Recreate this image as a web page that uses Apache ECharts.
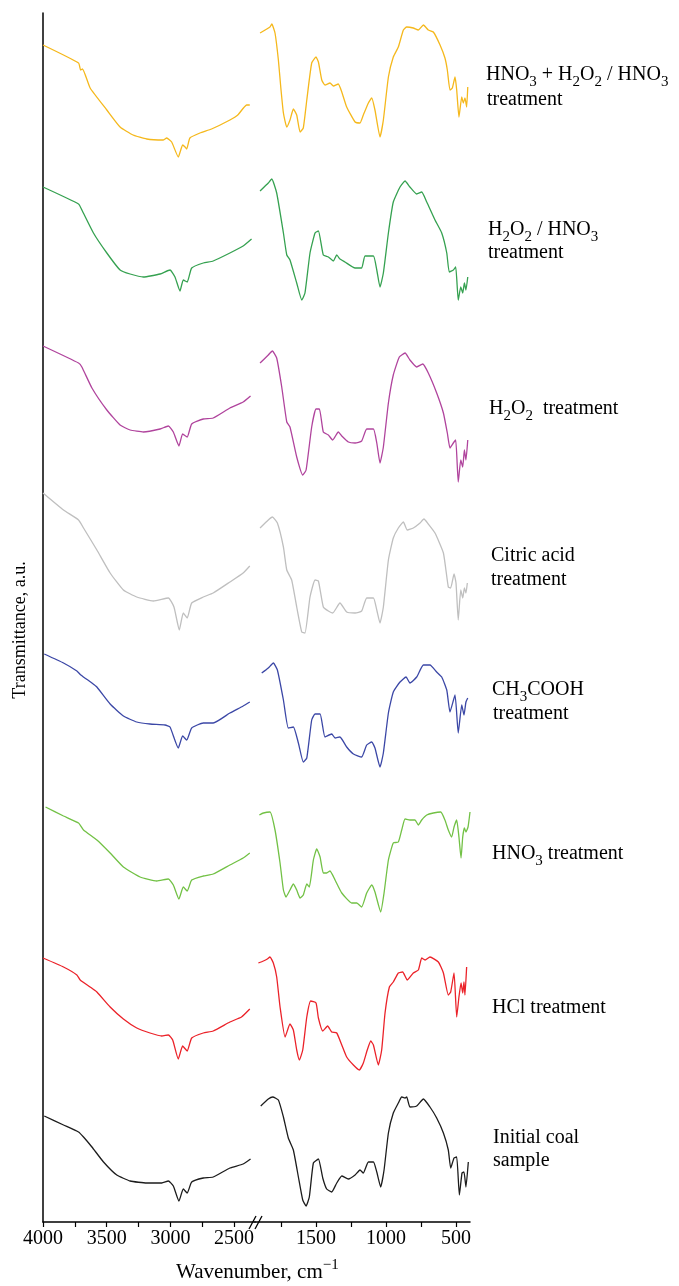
<!DOCTYPE html>
<html>
<head>
<meta charset="utf-8">
<script src="https://cdn.jsdelivr.net/npm/echarts@6/dist/echarts.min.js"></script>
<style>
  html, body { margin: 0; padding: 0; background: #fff; }
  #chart { width: 679px; height: 1286px; }
</style>
</head>
<body>
<div id="chart"></div>
<script>
// FTIR spectra, [wavenumber cm-1, transmittance a.u.] (curves stacked, offset already included)
const hno3H2o2 = [
  [4000,1177],[3721,1159],[3705,1152],[3690,1153],[3630,1134],[3499,1112],[3395,1095],[3293,1087],[3186,1083],
  [3058,1082],[3029,1084],[2990,1080],[2938,1065],[2904,1077],[2885,1075],[2872,1073],[2847,1084],[2768,1089],
  [2677,1093],[2533,1102],[2471,1107],[2402,1117],[2377,1117],
  [1900,1189],[1829,1195],[1816,1198],[1793,1189],[1769,1162],[1752,1135],[1733,1109],[1709,1095],[1686,1102],
  [1662,1113],[1638,1107],[1614,1090],[1591,1094],[1566,1122],[1531,1159],[1500,1165],[1483,1160],[1459,1142],
  [1436,1137],[1400,1139],[1376,1136],[1341,1138],[1316,1130],[1281,1115],[1221,1100],[1186,1099],[1162,1107],
  [1126,1119],[1102,1124],[1079,1112],[1043,1085],[1019,1102],[983,1145],[948,1165],[912,1175],[876,1192],
  [852,1195],[805,1194],[769,1192],[733,1197],[698,1192],[662,1190],[614,1177],[579,1164],[562,1152],[543,1132],
  [526,1134],[507,1145],[495,1132],[479,1105],[459,1125],[448,1119],[436,1124],[424,1115],[416,1135]
];
const h2o2Hno3 = [
  [4000,1035],[3721,1018],[3695,1012],[3604,989],[3499,969],[3395,952],[3316,948],[3212,945],[3081,948],
  [3003,952],[2964,945],[2925,931],[2899,942],[2868,940],[2833,954],[2742,959],[2664,961],[2533,969],
  [2429,976],[2363,983],
  [1900,1031],[1841,1039],[1816,1043],[1781,1029],[1733,989],[1709,967],[1686,962],[1638,939],[1602,922],
  [1579,929],[1543,969],[1507,989],[1483,991],[1448,967],[1412,965],[1376,961],[1352,967],[1329,963],
  [1293,960],[1221,954],[1174,954],[1150,966],[1090,966],[1066,952],[1043,935],[1019,949],[983,989],
  [948,1020],[900,1035],[864,1041],[829,1035],[781,1028],[745,1030],[709,1020],[650,1002],[602,989],
  [566,969],[548,950],[519,952],[502,955],[484,922],[466,935],[452,929],[440,939],[429,932],[416,945]
];
const h2o2 = [
  [4000,876],[3721,859],[3695,855],[3616,834],[3499,812],[3395,797],[3316,792],[3212,790],[3081,793],
  [3016,796],[2977,790],[2933,776],[2904,788],[2868,785],[2833,798],[2742,803],[2664,804],[2533,814],
  [2429,820],[2371,826],
  [1900,859],[1841,867],[1812,871],[1781,864],[1745,835],[1709,800],[1686,795],[1638,765],[1595,747],
  [1571,752],[1531,795],[1500,813],[1476,813],[1448,790],[1412,787],[1381,782],[1341,790],[1316,786],
  [1269,780],[1221,779],[1174,781],[1138,793],[1090,793],[1066,779],[1043,759],[1019,775],[983,819],
  [948,847],[905,865],[864,869],[829,862],[781,855],[738,858],[698,849],[638,829],[590,809],[562,789],
  [543,774],[519,779],[502,782],[484,740],[466,762],[452,755],[440,772],[429,762],[416,782]
];
const citricAcid = [
  [4000,729],[3839,712],[3721,702],[3682,694],[3577,672],[3473,649],[3369,632],[3264,625],[3134,621],
  [3016,624],[2972,615],[2930,592],[2899,609],[2868,604],[2833,619],[2742,625],[2664,629],[2533,640],
  [2429,649],[2377,656],
  [1900,694],[1841,702],[1812,705],[1776,699],[1733,675],[1709,652],[1674,642],[1638,615],[1602,590],
  [1579,589],[1543,625],[1507,642],[1483,641],[1448,615],[1412,611],[1381,609],[1329,619],[1281,610],
  [1221,609],[1174,611],[1138,624],[1090,624],[1066,612],[1043,599],[1019,615],[983,662],[948,684],
  [912,694],[876,700],[848,692],[805,694],[757,699],[729,703],[698,698],[650,689],[590,669],[555,635],
  [538,634],[514,648],[500,639],[484,602],[466,632],[452,624],[440,634],[429,629],[419,639]
];
const aceticAcid = [
  [3990,568],[3839,559],[3734,551],[3703,547],[3616,539],[3577,535],[3473,518],[3369,506],[3264,500],
  [3160,498],[3042,497],[3003,495],[2938,474],[2904,486],[2872,482],[2833,494],[2742,499],[2664,499],
  [2533,509],[2429,516],[2377,520],
  [1888,549],[1841,554],[1805,559],[1776,552],[1733,522],[1698,494],[1662,495],[1626,479],[1591,460],
  [1566,464],[1531,502],[1507,508],[1471,508],[1436,485],[1388,488],[1364,484],[1329,485],[1281,475],
  [1233,468],[1174,465],[1138,477],[1102,480],[1079,474],[1043,455],[1019,469],[983,509],[948,530],
  [900,540],[857,545],[829,539],[781,545],[733,557],[686,557],[638,550],[602,545],[566,532],[543,510],
  [507,527],[484,489],[459,517],[443,507],[429,520],[416,524]
];
const hno3 = [
  [3980,415],[3839,406],[3721,399],[3682,392],[3577,382],[3473,369],[3369,355],[3238,345],[3107,341],
  [3016,343],[2977,337],[2933,323],[2899,335],[2868,331],[2833,342],[2742,346],[2664,348],[2533,357],
  [2429,364],[2377,369],
  [1905,407],[1876,409],[1829,410],[1793,392],[1757,359],[1733,332],[1714,325],[1686,332],[1662,338],
  [1638,332],[1614,324],[1591,327],[1566,338],[1548,335],[1519,362],[1495,373],[1471,365],[1448,349],
  [1424,349],[1400,351],[1364,342],[1316,329],[1245,319],[1209,319],[1174,315],[1138,329],[1102,337],
  [1079,330],[1038,310],[1014,329],[983,362],[948,379],[912,380],[888,392],[864,403],[829,402],[793,402],
  [769,397],[745,402],[709,407],[662,409],[609,410],[579,402],[555,392],[531,385],[514,395],[495,402],
  [479,385],[464,364],[452,385],[440,394],[429,390],[414,395],[400,410]
];
const hcl = [
  [4000,264],[3839,255],[3734,247],[3708,242],[3630,235],[3577,230],[3473,215],[3369,203],[3264,194],
  [3160,189],[3068,186],[3016,187],[2982,182],[2938,163],[2904,176],[2868,171],[2833,184],[2742,189],
  [2664,191],[2533,200],[2442,205],[2377,213],
  [1912,259],[1876,261],[1848,263],[1829,265],[1805,259],[1781,245],[1757,215],[1721,185],[1686,198],
  [1662,192],[1638,172],[1619,162],[1595,172],[1566,205],[1538,221],[1500,219],[1483,204],[1452,191],
  [1417,196],[1388,190],[1352,189],[1316,177],[1281,165],[1233,157],[1191,152],[1162,159],[1134,172],
  [1109,181],[1090,177],[1055,157],[1031,172],[1007,209],[976,235],[948,240],[912,249],[881,250],[848,242],
  [805,249],[769,252],[745,264],[721,262],[686,265],[626,260],[590,249],[555,227],[538,230],[514,249],
  [495,205],[479,225],[464,239],[452,229],[443,240],[436,227],[424,255]
];
const initialCoal = [
  [3990,106],[3839,97],[3721,90],[3682,85],[3616,75],[3525,60],[3421,47],[3316,41],[3186,39],[3068,39],
  [3016,41],[2977,36],[2933,21],[2899,33],[2868,29],[2833,40],[2742,44],[2664,45],[2533,54],[2429,58],
  [2371,63],
  [1895,116],[1841,123],[1809,125],[1769,122],[1733,105],[1698,84],[1662,72],[1626,45],[1595,22],
  [1571,16],[1548,25],[1519,59],[1483,63],[1452,44],[1424,33],[1388,30],[1352,39],[1316,46],[1269,43],
  [1221,47],[1186,52],[1162,49],[1126,60],[1090,60],[1066,50],[1038,35],[1014,52],[983,89],[948,109],
  [912,119],[888,125],[864,124],[852,125],[829,115],[781,116],[733,123],[686,115],[638,104],[590,89],
  [555,72],[538,54],[514,64],[495,65],[476,27],[457,49],[443,50],[429,35],[412,60]
];

const leftTicks = [4000, 3750, 3500, 3250, 3000, 2750, 2500];
const leftLabels = [4000, 3500, 3000, 2500];
const rightTicks = [1750, 1500, 1250, 1000, 750, 500];
const rightLabels = [1500, 1000, 500];

const FONT = '"Liberation Serif", "Times New Roman", serif';
const BREAK_HI = 2336;  // left part ends here
const BREAK_LO = 1936;  // right part starts here

const samples = [
  { data: hno3H2o2,    color: '#f5b81c' },
  { data: h2o2Hno3,    color: '#35a150' },
  { data: h2o2,        color: '#b0449d' },
  { data: citricAcid,  color: '#bfbfbf' },
  { data: aceticAcid,  color: '#3b47a6' },
  { data: hno3,        color: '#72c145' },
  { data: hcl,         color: '#eb2229' },
  { data: initialCoal, color: '#1c1c1c' }
];

const series = [];
samples.forEach(s => {
  const base = {
    type: 'line', showSymbol: false, smooth: 0.15, silent: true,
    lineStyle: { color: s.color, width: 1.3 }
  };
  series.push(Object.assign({}, base, { xAxisIndex: 0, yAxisIndex: 0, data: s.data.filter(p => p[0] >= BREAK_HI) }));
  series.push(Object.assign({}, base, { xAxisIndex: 1, yAxisIndex: 1, data: s.data.filter(p => p[0] <= BREAK_LO) }));
});

const axisLine = { show: true, lineStyle: { color: '#000', width: 1.5 } };
function xAxis(gridIndex, min, max, ticks, labels) {
  return {
    type: 'value', gridIndex, min, max, inverse: true,
    axisLine,
    axisTick: { show: true, customValues: ticks, length: 5, lineStyle: { color: '#000', width: 1.2 } },
    axisLabel: {
      customValues: labels, margin: 7, color: '#000', fontFamily: FONT, fontSize: 20,
      formatter: v => String(v)
    },
    splitLine: { show: false }
  };
}

// rich text helpers for chemical formulas
const rich = {
  n: { fontFamily: FONT, fontSize: 20 },
  t: { fontFamily: FONT, fontSize: 21 },
  s: { fontFamily: FONT, fontSize: 15, padding: [14, 0, 0, 0] },
  p: { fontFamily: FONT, fontSize: 15, padding: [0, 0, 14, 0] }
};
function label(x, y, text) {
  return {
    type: 'text', x, y, silent: true,
    style: { text, rich, fill: '#000', fontFamily: FONT, fontSize: 20, align: 'left', verticalAlign: 'middle' }
  };
}

const sampleLabels = [
  label(486, 75, '{n|HNO}{s|3}{n| + H}{s|2}{n|O}{s|2}{n| / HNO}{s|3}'),
  label(487, 100, '{n|treatment}'),
  label(488, 230, '{n|H}{s|2}{n|O}{s|2}{n| / HNO}{s|3}'),
  label(488, 253, '{n|treatment}'),
  label(489, 409, '{n|H}{s|2}{n|O}{s|2}{n|  treatment}'),
  label(491, 556, '{n|Citric acid}'),
  label(491, 580, '{n|treatment}'),
  label(492, 690, '{n|CH}{s|3}{n|COOH}'),
  label(493, 714, '{n|treatment}'),
  label(492, 854, '{n|HNO}{s|3}{n| treatment}'),
  label(492, 1008, '{n|HCl treatment}'),
  label(493, 1138, '{n|Initial coal}'),
  label(493, 1161, '{n|sample}')
];

const chart = echarts.init(document.getElementById('chart'), null, { renderer: 'canvas' });
chart.setOption({
  backgroundColor: '#fff',
  animation: false,
  grid: [
    { left: 43, top: 13, width: 212, bottom: 64 },
    { left: 255, top: 13, width: 215, bottom: 64 }
  ],
  xAxis: [
    xAxis(0, BREAK_HI, 4000, leftTicks, leftLabels),
    xAxis(1, 400, BREAK_LO, rightTicks, rightLabels)
  ],
  yAxis: [
    {
      type: 'value', gridIndex: 0, min: 0, max: 1209,
      axisLine, axisTick: { show: false }, axisLabel: { show: false }, splitLine: { show: false }
    },
    { type: 'value', gridIndex: 1, min: 0, max: 1209, show: false }
  ],
  series,
  graphic: [
    // axis break marks
    { type: 'line', silent: true, shape: { x1: 249, y1: 1229, x2: 256, y2: 1216 }, style: { stroke: '#000', lineWidth: 1.3 } },
    { type: 'line', silent: true, shape: { x1: 255, y1: 1229, x2: 262, y2: 1216 }, style: { stroke: '#000', lineWidth: 1.3 } },
    label(176, 1272, '{t|Wavenumber, cm}{p|−1}'),
    {
      type: 'text', x: 20, y: 630, rotation: Math.PI / 2, silent: true,
      style: { text: 'Transmittance, a.u.', fill: '#000', fontFamily: FONT, fontSize: 18, align: 'center', verticalAlign: 'middle' }
    }
  ].concat(sampleLabels)
});
</script>
</body>
</html>
